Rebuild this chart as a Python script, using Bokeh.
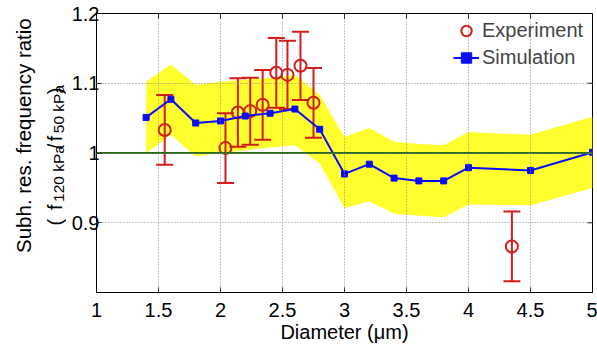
import math
from bokeh.plotting import figure
from bokeh.layouts import row
from bokeh.models import Range1d, FixedTicker, Span, Legend, LegendItem
from bokeh.core.properties import value
from bokeh.embed import file_html
from bokeh.resources import INLINE

# ---- data ----
sim_d = [1.4, 1.6, 1.8, 2.0, 2.2, 2.4, 2.6, 2.8, 3.0, 3.2, 3.4, 3.6, 3.8, 4.0, 4.5, 5.0]
sim_ratio = [1.051, 1.077, 1.043, 1.046, 1.053, 1.057, 1.063, 1.034, 0.970, 0.984,
             0.964, 0.960, 0.960, 0.979, 0.975, 1.001]
band_upper = [1.102, 1.127, 1.098, 1.102, 1.105, 1.108, 1.112, 1.083, 1.023, 1.036,
              1.016, 1.013, 1.011, 1.030, 1.026, 1.052]
band_lower = [1.000, 1.026, 0.995, 1.000, 1.004, 1.008, 1.011, 0.985, 0.921, 0.931,
              0.913, 0.910, 0.908, 0.926, 0.925, 0.950]

exp_d = [1.55, 2.04, 2.14, 2.24, 2.34, 2.45, 2.54, 2.645, 2.75, 4.35]
exp_ratio = [1.033, 1.007, 1.058, 1.060, 1.069, 1.115, 1.112, 1.125, 1.072, 0.866]
exp_err = [0.050, 0.050, 0.049, 0.048, 0.050, 0.050, 0.049, 0.049, 0.050, 0.050]

ref_ratio = 1.0
x_ticks = [1, 1.5, 2, 2.5, 3, 3.5, 4, 4.5, 5]
y_ticks = [0.8, 0.9, 1.0, 1.1, 1.2]
y_tick_labels = {0.8: "", 0.9: "0.9", 1.0: "1", 1.1: "1.1", 1.2: "1.2"}
x_tick_labels = {1: "1", 1.5: "1.5", 2: "2", 2.5: "2.5", 3: "3", 3.5: "3.5", 4: "4", 4.5: "4.5", 5: "5"}
x_lim = (1, 5)
y_lim = (0.8, 1.2)

exp_hi = [r + e for r, e in zip(exp_ratio, exp_err)]
exp_lo = [r - e for r, e in zip(exp_ratio, exp_err)]

FONT = "Liberation Sans"
RED = "#d41c1c"
BLUE = "#0a0aff"
YELLOW = "#ffff2e"
GREEN = "#2a6b16"

H = 345
LEFT_W = 66
FRAME_W, FRAME_H = 496, 279
TICK = 5

# ---- main plot ----
p = figure(frame_width=FRAME_W, frame_height=FRAME_H, output_backend="svg",
           toolbar_location=None,
           x_range=Range1d(*x_lim), y_range=Range1d(*y_lim),
           min_border_left=96 - LEFT_W, min_border_right=5, min_border_top=13,
           min_border_bottom=53)
p.background_fill_color = "white"
p.border_fill_color = "white"
p.outline_line_color = "black"
p.outline_line_width = 1

for ax in (p.xaxis[0], p.yaxis[0]):
    ax.major_tick_in = TICK
    ax.major_tick_out = 0
    ax.minor_tick_in = 0
    ax.minor_tick_out = 0
    ax.axis_line_color = "black"
    ax.major_tick_line_color = "black"
    ax.major_label_text_font = FONT
    ax.major_label_text_font_size = "20px"
    ax.major_label_text_color = "black"

p.xaxis.ticker = FixedTicker(ticks=x_ticks)
p.xaxis.major_label_overrides = x_tick_labels
p.xaxis.major_label_standoff = 10
p.xaxis.axis_label = "Diameter (μm)"
p.xaxis.axis_label_text_font = FONT
p.xaxis.axis_label_text_font_size = "20px"
p.xaxis.axis_label_text_font_style = "normal"
p.xaxis.axis_label_text_color = "black"
p.xaxis.axis_label_standoff = 1

p.yaxis.ticker = FixedTicker(ticks=y_ticks)
p.yaxis.major_label_overrides = y_tick_labels
p.yaxis.major_label_standoff = -3
p.yaxis.major_label_orientation = "horizontal"

p.xgrid.ticker = FixedTicker(ticks=x_ticks)
p.ygrid.ticker = FixedTicker(ticks=y_ticks)
p.grid.grid_line_color = "#8a8a8a"
p.grid.grid_line_dash = "1 2"
p.grid.grid_line_width = 1
p.grid.level = "overlay"

# band
p.varea(x=sim_d, y1=band_lower, y2=band_upper, fill_color=YELLOW, fill_alpha=1.0)

# reference line
p.add_layout(Span(location=ref_ratio, dimension="width", line_color=GREEN, line_width=2,
                  level="glyph"))

# experiment error bars
p.segment(x0=exp_d, y0=exp_lo, x1=exp_d, y1=exp_hi, line_color=RED, line_width=2)
p.scatter(x=exp_d, y=exp_hi, marker="dash", size=17, line_color=RED, line_width=2)
p.scatter(x=exp_d, y=exp_lo, marker="dash", size=17, line_color=RED, line_width=2)
r_exp = p.scatter(x=exp_d, y=exp_ratio, marker="circle", size=12, fill_color=None,
                  line_color=RED, line_width=2)

# simulation
r_sim_line = p.line(x=sim_d, y=sim_ratio, line_color=BLUE, line_width=2)
r_sim_pts = p.scatter(x=sim_d, y=sim_ratio, marker="square", size=6, fill_color=BLUE,
                      line_color=BLUE)

# mirrored tick marks on top and right edges (MATLAB box style)
tl_y = (y_lim[1] - y_lim[0]) * TICK / FRAME_H
tl_x = (x_lim[1] - x_lim[0]) * TICK / FRAME_W
p.segment(x0=x_ticks, y0=[y_lim[1]] * len(x_ticks), x1=x_ticks,
          y1=[y_lim[1] - tl_y] * len(x_ticks), line_color="black", line_width=1)
p.segment(x0=[x_lim[1]] * len(y_ticks), y0=y_ticks, x1=[x_lim[1] - tl_x] * len(y_ticks),
          y1=y_ticks, line_color="black", line_width=1)

legend = Legend(items=[LegendItem(label="Experiment", renderers=[r_exp]),
                       LegendItem(label="Simulation", renderers=[r_sim_line, r_sim_pts])],
                location="top_right", margin=0, padding=4, spacing=0,
                glyph_width=26, glyph_height=27, label_height=27, label_width=106,
                label_standoff=3,
                label_text_font=FONT, label_text_font_size="20px",
                border_line_alpha=0, background_fill_alpha=0)
p.add_layout(legend)

# ---- y-axis label panel (two lines, with subscripts) ----
lab = figure(width=LEFT_W, height=H, output_backend="svg", toolbar_location=None,
             x_range=Range1d(0, LEFT_W), y_range=Range1d(0, H),
             min_border=0, x_axis_type=None, y_axis_type=None)
lab.outline_line_color = None
lab.grid.visible = False
lab.background_fill_color = "white"
lab.border_fill_color = "white"


def ylab(text, x, y_top, size, align="left"):
    lab.text(x=[x], y=[H - y_top], text=[text], angle=math.pi / 2,
             text_align=align, text_baseline="alphabetic",
             text_font=value(FONT), text_font_size=value(size), text_color="black")


ylab("Subh. res. frequency ratio", 23, 151, "20.5px", align="center")
ylab("(", 54, 262, "20px")
ylab("f", 54, 243, "20px")
ylab("120 kPa", 58, 233, "15.5px")
ylab("/", 54, 168, "20px")
ylab("f", 54, 158, "20px")
ylab("50 kPa", 58, 148, "15.5px")
ylab(")", 54, 100, "20px")

layout = row(lab, p, spacing=0)
open("out.html", "w").write(file_html(layout, INLINE))
